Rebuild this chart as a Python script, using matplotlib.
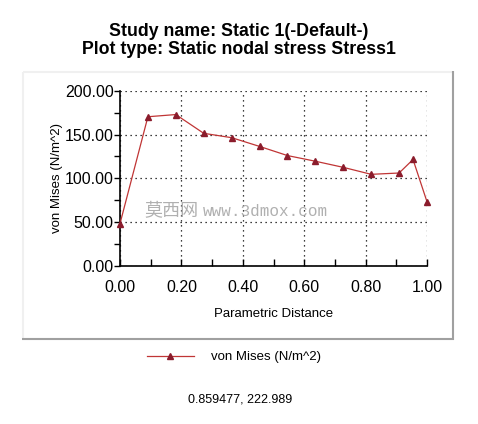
import numpy as np
import matplotlib.pyplot as plt
from matplotlib.lines import Line2D
from matplotlib.ticker import MultipleLocator, FormatStrFormatter

plt.rcParams['font.family'] = ['Liberation Sans', 'DejaVu Sans']

# Values
distance = [0.0, 0.0909, 0.1818, 0.2727, 0.3636, 0.4545, 0.5455,
            0.6364, 0.7273, 0.8182, 0.9091, 0.9545, 1.0]
von_mises = [48.0, 170.5, 173.0, 151.5, 146.5, 136.5, 126.0,
             119.5, 112.5, 104.5, 106.0, 121.5, 73.0]

title_lines = ["Study name: Static 1(-Default-)",
               "Plot type: Static nodal stress Stress1"]
series_label = "von Mises (N/m^2)"
cursor_text = "0.859477, 222.989"

W, H = 478, 424
fig = plt.figure(figsize=(W / 100, H / 100), dpi=100)


def fx(px):
    return px / W


def fy(py):
    return 1 - py / H


# Panel frame around the plot area
frame = dict(transform=fig.transFigure, solid_capstyle='butt')
fig.add_artist(Line2D([fx(23), fx(23)], [fy(72), fy(339)], color='#f0f0f0', lw=1.5, **frame))
fig.add_artist(Line2D([fx(23), fx(453)], [fy(72), fy(72)], color='#f0f0f0', lw=1.5, **frame))
fig.add_artist(Line2D([fx(453), fx(453)], [fy(71), fy(340)], color='#a0a0a0', lw=1.5, **frame))
fig.add_artist(Line2D([fx(22), fx(454)], [fy(339), fy(339)], color='#a0a0a0', lw=1.5, **frame))

# Titles
fig.text(fx(239), fy(32), title_lines[0], ha='center', va='center',
         fontsize=12.8, fontweight='bold')
fig.text(fx(239), fy(50), title_lines[1], ha='center', va='center',
         fontsize=12.8, fontweight='bold')

ax = fig.add_axes([fx(120), fy(265.5), fx(427) - fx(120), fy(91) - fy(265.5)])
ax.plot(distance, von_mises, color='#c03535', lw=0.9, marker='^',
        markersize=4, markerfacecolor='#8b1c2c', markeredgecolor='#8b1c2c',
        clip_on=False, zorder=3)

ax.set_xlim(0, 1)
ax.set_ylim(0, 200)
ax.xaxis.set_major_locator(MultipleLocator(0.2))
ax.xaxis.set_minor_locator(MultipleLocator(0.1))
ax.yaxis.set_major_locator(MultipleLocator(50))
ax.yaxis.set_minor_locator(MultipleLocator(25))
ax.xaxis.set_major_formatter(FormatStrFormatter('%.2f'))
ax.yaxis.set_major_formatter(FormatStrFormatter('%.2f'))

ax.tick_params(axis='x', which='both', direction='in', length=5, width=1, labelsize=11.5, pad=10.5)
ax.tick_params(axis='y', which='both', direction='out', length=4, width=1, labelsize=11.5, pad=0.5)

ax.spines['top'].set_visible(False)
ax.spines['right'].set_visible(False)
ax.spines['left'].set_linewidth(1.2)
ax.spines['bottom'].set_linewidth(1.2)

ax.grid(True, which='major', color='black', linestyle=(0, (1, 3)), linewidth=0.9)

ax.set_xlabel("Parametric Distance", fontsize=9.5, labelpad=9)
ax.set_ylabel(series_label, fontsize=9.5, labelpad=1)

# Watermark seen in the reference
fig.text(fx(144), fy(211), "莫西网", ha='left', va='center', fontsize=13,
         color='#b0b0b0', family=['Noto Sans CJK SC', 'DejaVu Sans'])
fig.text(fx(203), fy(211), "www.3dmox.com", ha='left', va='center', fontsize=11.5,
         color='#b0b0b0', family=['Liberation Mono', 'DejaVu Sans Mono'])

# Legend below the panel
legend_handle = Line2D([], [], color='#c03535', lw=0.9, marker='^', markersize=4,
                       markerfacecolor='#8b1c2c', markeredgecolor='#8b1c2c')
fig.legend([legend_handle], [series_label], loc='center',
           bbox_to_anchor=(fx(234), fy(357)), frameon=False, fontsize=9.5,
           handlelength=3.6, handletextpad=1.3, borderpad=0, borderaxespad=0,
           markerscale=1)

fig.text(fx(240), fy(400), cursor_text, ha='center', va='center', fontsize=9)

fig.savefig("out.png", dpi=100)
